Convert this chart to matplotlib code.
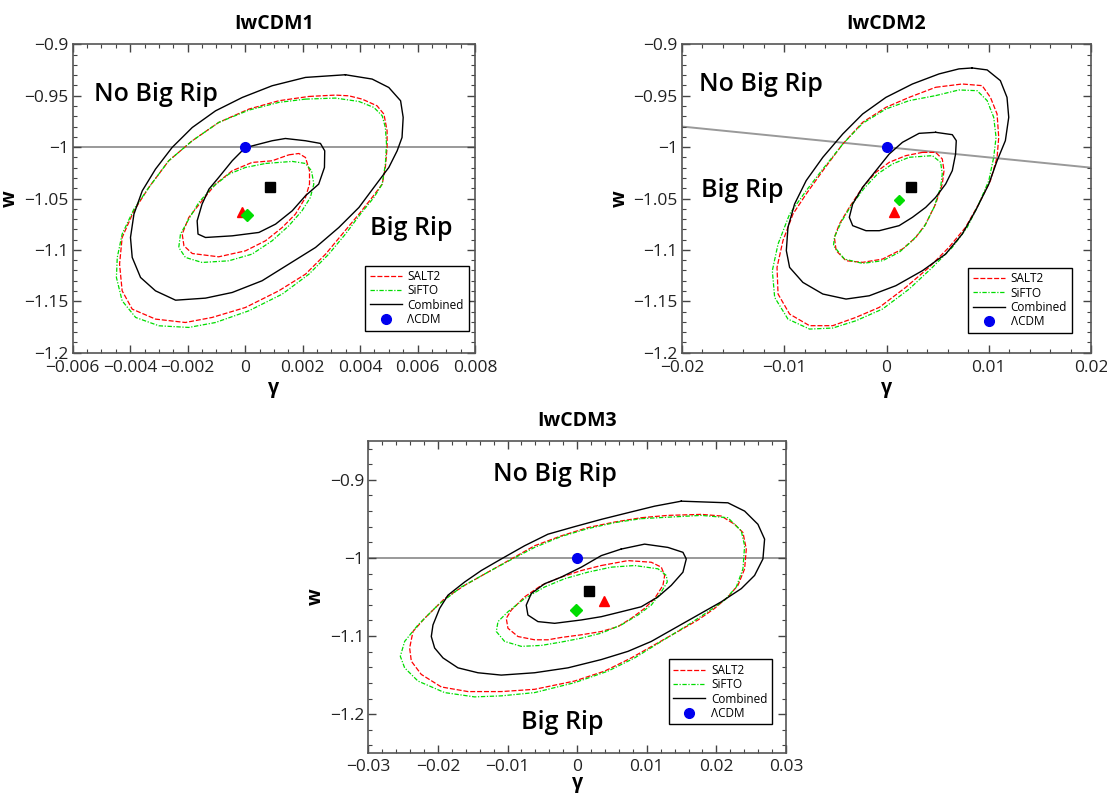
import matplotlib
matplotlib.use("Agg")
import matplotlib.pyplot as plt
from matplotlib.ticker import MultipleLocator, FuncFormatter
from matplotlib.lines import Line2D

plt.rcParams['font.family'] = ['Open Sans', 'DejaVu Sans']

# ---- IwCDM1 contours (gamma, w) ----
P1_COMB_OUT = [(0.00349, -0.9296), (0.00442, -0.9338), (0.00500, -0.9420), (0.00541, -0.9549), (0.00550, -0.9711),
               (0.00546, -0.9906), (0.00529, -1.0036), (0.00500, -1.0198), (0.00448, -1.0392), (0.00396, -1.0587),
               (0.00326, -1.0782), (0.00245, -1.0976), (0.00152, -1.1138), (0.00059, -1.1300), (-0.00045, -1.1414),
               (-0.00138, -1.1469), (-0.00242, -1.1489), (-0.00312, -1.1398), (-0.00364, -1.1268), (-0.00393, -1.1073),
               (-0.00399, -1.0879), (-0.00387, -1.0652), (-0.00358, -1.0425), (-0.00312, -1.0214), (-0.00254, -1.0003),
               (-0.00184, -0.9809), (-0.00103, -0.9647), (-0.00010, -0.9517), (0.00094, -0.9403), (0.00210, -0.9322)]
P1_COMB_IN = [(0.0, -1.0006), (0.00048, -0.9971), (0.00094, -0.9938), (0.00140, -0.9916), (0.00210, -0.9938),
              (0.00262, -0.9964), (0.00277, -1.0036), (0.00276, -1.0198), (0.00256, -1.0360), (0.00210, -1.0473),
              (0.00164, -1.0619), (0.00106, -1.0749), (0.00048, -1.0830), (-0.00045, -1.0863), (-0.00138, -1.0879),
              (-0.00164, -1.0846), (-0.00167, -1.0717), (-0.00150, -1.0555), (-0.00126, -1.0409), (-0.00092, -1.0295),
              (-0.00045, -1.0133)]
P1_SALT2_OUT = [(0.00222, -0.9507), (0.00314, -0.9494), (0.00361, -0.9501), (0.00407, -0.9533), (0.00459, -0.9598),
                (0.00483, -0.9679), (0.00494, -0.9841), (0.00494, -1.0003), (0.00488, -1.0198), (0.00477, -1.0360),
                (0.00442, -1.0490), (0.00396, -1.0652), (0.00338, -1.0846), (0.00280, -1.1041), (0.00210, -1.1236),
                (0.00117, -1.1398), (0.00001, -1.1560), (-0.00115, -1.1657), (-0.00208, -1.1706), (-0.00312, -1.1673),
                (-0.00393, -1.1576), (-0.00428, -1.1398), (-0.00437, -1.1138), (-0.00428, -1.0879), (-0.00387, -1.0619),
                (-0.00335, -1.0392), (-0.00266, -1.0133), (-0.00184, -0.9938), (-0.00092, -0.9760), (0.00013, -0.9630),
                (0.00117, -0.9549)]
P1_SIFTO_OUT = [(0.00210, -0.9533), (0.00314, -0.9523), (0.00396, -0.9556), (0.00448, -0.9614), (0.00477, -0.9695),
                (0.00488, -0.9809), (0.00492, -0.9971), (0.00488, -1.0166), (0.00477, -1.0360), (0.00448, -1.0490),
                (0.00401, -1.0652), (0.00349, -1.0846), (0.00291, -1.1041), (0.00222, -1.1236), (0.00129, -1.1430),
                (0.00013, -1.1592), (-0.00103, -1.1706), (-0.00196, -1.1754), (-0.00300, -1.1738), (-0.00381, -1.1657),
                (-0.00428, -1.1495), (-0.00448, -1.1268), (-0.00445, -1.1073), (-0.00428, -1.0846), (-0.00387, -1.0603),
                (-0.00335, -1.0392), (-0.00266, -1.0133), (-0.00184, -0.9938), (-0.00092, -0.9760), (0.00013, -0.9640),
                (0.00117, -0.9565)]
P1_SALT2_IN = [(0.00152, -1.0075), (0.00187, -1.0062), (0.00210, -1.0101), (0.00224, -1.0230), (0.00224, -1.0360),
               (0.00210, -1.0490), (0.00175, -1.0652), (0.00129, -1.0782), (0.00071, -1.0911), (0.00001, -1.1009),
               (-0.00092, -1.1067), (-0.00184, -1.1035), (-0.00213, -1.0960), (-0.00219, -1.0846), (-0.00196, -1.0684),
               (-0.00150, -1.0522), (-0.00103, -1.0360), (-0.00045, -1.0230), (0.00024, -1.0149), (0.00094, -1.0133)]
P1_SIFTO_IN = [(0.00071, -1.0159), (0.00164, -1.0139), (0.00210, -1.0159), (0.00231, -1.0230), (0.00239, -1.0360),
               (0.00227, -1.0490), (0.00198, -1.0619), (0.00152, -1.0765), (0.00094, -1.0911), (0.00024, -1.1041),
               (-0.00057, -1.1106), (-0.00150, -1.1122), (-0.00208, -1.1073), (-0.00231, -1.0976), (-0.00225, -1.0846),
               (-0.00196, -1.0700), (-0.00161, -1.0538), (-0.00115, -1.0392), (-0.00057, -1.0263), (0.00001, -1.0198)]
P1_BEST = {"comb": (0.00086, -1.0392), "salt2": (-0.0001, -1.0631), "sifto": (0.00008, -1.0664)}

# ---- IwCDM2 contours ----
P2_COMB_OUT = [(0.00837, -0.9230), (0.00984, -0.9249), (0.01113, -0.9353), (0.01178, -0.9516), (0.01195, -0.9710),
               (0.01162, -0.9937), (0.01081, -1.0133), (0.01000, -1.0360), (0.00870, -1.0619), (0.00740, -1.0846),
               (0.00578, -1.1040), (0.00351, -1.1202), (0.00091, -1.1348), (-0.00169, -1.1446), (-0.00396, -1.1478),
               (-0.00623, -1.1429), (-0.00818, -1.1316), (-0.00948, -1.1170), (-0.00980, -1.1007), (-0.00964, -1.0780),
               (-0.00899, -1.0553), (-0.00786, -1.0326), (-0.00623, -1.0099), (-0.00428, -0.9872), (-0.00234, -0.9678),
               (-0.00006, -0.9516), (0.00253, -0.9386), (0.00513, -0.9288), (0.00708, -0.9239)]
P2_COMB_IN = [(0.00480, -0.9856), (0.00643, -0.9879), (0.00682, -0.9937), (0.00675, -1.0067), (0.00643, -1.0229),
              (0.00578, -1.0359), (0.00480, -1.0489), (0.00383, -1.0586), (0.00253, -1.0683), (0.00123, -1.0764),
              (-0.00071, -1.0813), (-0.00201, -1.0813), (-0.00331, -1.0764), (-0.00364, -1.0683), (-0.00331, -1.0553),
              (-0.00234, -1.0391), (-0.00104, -1.0229), (0.00026, -1.0067), (0.00156, -0.9953), (0.00318, -0.9866)]
P2_SALT2_OUT = [(0.00480, -0.9418), (0.00740, -0.9386), (0.00935, -0.9402), (0.01016, -0.9516), (0.01081, -0.9678),
                (0.01097, -0.9905), (0.01081, -1.0099), (0.01016, -1.0326), (0.00902, -1.0553), (0.00773, -1.0780),
                (0.00610, -1.0975), (0.00415, -1.1170), (0.00188, -1.1364), (-0.00071, -1.1559), (-0.00299, -1.1656),
                (-0.00526, -1.1737), (-0.00753, -1.1737), (-0.00948, -1.1624), (-0.01061, -1.1429), (-0.01071, -1.1170),
                (-0.01013, -1.0910), (-0.00915, -1.0651), (-0.00786, -1.0456), (-0.00623, -1.0229), (-0.00428, -0.9970),
                (-0.00234, -0.9759), (-0.00006, -0.9613), (0.00221, -0.9516)]
P2_SIFTO_OUT = [(0.00480, -0.9499), (0.00708, -0.9444), (0.00886, -0.9451), (0.00984, -0.9548), (0.01048, -0.9710),
                (0.01071, -0.9905), (0.01048, -1.0099), (0.01000, -1.0326), (0.00902, -1.0553), (0.00789, -1.0780),
                (0.00643, -1.0975), (0.00448, -1.1170), (0.00221, -1.1381), (-0.00039, -1.1575), (-0.00299, -1.1689),
                (-0.00526, -1.1760), (-0.00753, -1.1770), (-0.00964, -1.1673), (-0.01094, -1.1462), (-0.01117, -1.1202),
                (-0.01061, -1.0943), (-0.00948, -1.0651), (-0.00786, -1.0424), (-0.00623, -1.0213), (-0.00428, -0.9970),
                (-0.00234, -0.9769), (-0.00006, -0.9629), (0.00221, -0.9548)]
P2_SALT2_IN = [(0.00351, -1.0051), (0.00480, -1.0051), (0.00545, -1.0115), (0.00562, -1.0229), (0.00545, -1.0359),
               (0.00480, -1.0553), (0.00383, -1.0748), (0.00286, -1.0878), (0.00156, -1.0991), (-0.00039, -1.1089),
               (-0.00234, -1.1121), (-0.00396, -1.1105), (-0.00493, -1.1007), (-0.00510, -1.0878), (-0.00461, -1.0748),
               (-0.00364, -1.0586), (-0.00234, -1.0391), (-0.00104, -1.0245), (0.00026, -1.0148), (0.00188, -1.0083)]
P2_SIFTO_IN = [(0.00221, -1.0099), (0.00448, -1.0083), (0.00529, -1.0148), (0.00545, -1.0261), (0.00529, -1.0391),
               (0.00464, -1.0586), (0.00367, -1.0780), (0.00253, -1.0910), (0.00123, -1.1024), (-0.00039, -1.1105),
               (-0.00234, -1.1131), (-0.00412, -1.1089), (-0.00519, -1.0959), (-0.00510, -1.0878), (-0.00445, -1.0732),
               (-0.00347, -1.0570), (-0.00217, -1.0398), (-0.00088, -1.0261), (0.00058, -1.0164)]
P2_BEST = {"comb": (0.00237, -1.0384), "salt2": (0.00075, -1.0633), "sifto": (0.00117, -1.0510)}

# ---- IwCDM3 contours ----
P3_COMB_OUT = [(0.01496, -0.9273), (0.02166, -0.9294), (0.02406, -0.9400), (0.02597, -0.9569), (0.02693, -0.9759),
               (0.02669, -1.0013), (0.02549, -1.0224), (0.02358, -1.0393), (0.02070, -1.0562), (0.01735, -1.0731),
               (0.01400, -1.0900), (0.01065, -1.1069), (0.00730, -1.1196), (0.00347, -1.1301), (-0.00132, -1.1407),
               (-0.00611, -1.1470), (-0.01090, -1.1500), (-0.01425, -1.1470), (-0.01712, -1.1407), (-0.01927, -1.1280),
               (-0.02047, -1.1153), (-0.02095, -1.1006), (-0.02071, -1.0858), (-0.01975, -1.0646), (-0.01856, -1.0477),
               (-0.01616, -1.0308), (-0.01377, -1.0161), (-0.01090, -1.0013), (-0.00755, -0.9844), (-0.00420, -0.9696),
               (-0.00036, -0.9599), (0.00347, -0.9506), (0.00730, -0.9421), (0.01113, -0.9337)]
P3_COMB_IN = [(0.00634, -0.9886), (0.00969, -0.9823), (0.01304, -0.9865), (0.01520, -0.9928), (0.01568, -1.0013),
              (0.01520, -1.0182), (0.01352, -1.0351), (0.01161, -1.0499), (0.00921, -1.0625), (0.00634, -1.0689),
              (0.00347, -1.0752), (0.00060, -1.0794), (-0.00323, -1.0837), (-0.00563, -1.0815), (-0.00707, -1.0731),
              (-0.00731, -1.0604), (-0.00659, -1.0456), (-0.00467, -1.0330), (-0.00228, -1.0245), (0.00060, -1.0118),
              (0.00347, -0.9970)]
P3_SALT2_OUT = [(0.00920, -0.9485), (0.01303, -0.9455), (0.01783, -0.9442), (0.02070, -0.9463), (0.02262, -0.9569),
                (0.02382, -0.9675), (0.02430, -0.9886), (0.02406, -1.0139), (0.02310, -1.0351), (0.02166, -1.0499),
                (0.01975, -1.0646), (0.01736, -1.0794), (0.01448, -1.0942), (0.01113, -1.1111), (0.00778, -1.1280),
                (0.00395, -1.1449), (-0.00036, -1.1576), (-0.00611, -1.1682), (-0.01090, -1.1711), (-0.01568, -1.1711),
                (-0.01951, -1.1652), (-0.02239, -1.1491), (-0.02382, -1.1322), (-0.02406, -1.1153), (-0.02358, -1.0942),
                (-0.02191, -1.0773), (-0.01903, -1.0520), (-0.01616, -1.0351), (-0.01281, -1.0182), (-0.00946, -1.0013),
                (-0.00611, -0.9844), (-0.00228, -0.9717), (0.00155, -0.9611), (0.00538, -0.9540)]
P3_SIFTO_OUT = [(0.00920, -0.9497), (0.01783, -0.9455), (0.02166, -0.9485), (0.02358, -0.9654), (0.02406, -0.9844),
                (0.02382, -1.0139), (0.02286, -1.0372), (0.02118, -1.0541), (0.01879, -1.0689), (0.01592, -1.0858),
                (0.01209, -1.1069), (0.00826, -1.1280), (0.00443, -1.1449), (-0.00036, -1.1597), (-0.00611, -1.1724),
                (-0.01090, -1.1766), (-0.01473, -1.1779), (-0.01903, -1.1724), (-0.02287, -1.1576), (-0.02478, -1.1407),
                (-0.02540, -1.1259), (-0.02478, -1.1069), (-0.02287, -1.0858), (-0.02000, -1.0604), (-0.01664, -1.0372),
                (-0.01281, -1.0182), (-0.00946, -1.0021), (-0.00611, -0.9865), (-0.00228, -0.9725), (0.00155, -0.9624),
                (0.00538, -0.9548)]
P3_SALT2_IN = [(0.00347, -1.0097), (0.00730, -1.0034), (0.01065, -1.0055), (0.01209, -1.0118), (0.01257, -1.0224),
               (0.01233, -1.0351), (0.01113, -1.0520), (0.00969, -1.0646), (0.00778, -1.0773), (0.00586, -1.0879),
               (0.00347, -1.0942), (0.00060, -1.0984), (-0.00228, -1.1018), (-0.00419, -1.1048), (-0.00611, -1.1048),
               (-0.00850, -1.1006), (-0.00994, -1.0900), (-0.01018, -1.0773), (-0.00946, -1.0668), (-0.00755, -1.0499),
               (-0.00515, -1.0351), (-0.00228, -1.0245), (0.00060, -1.0161)]
P3_SIFTO_IN = [(0.00490, -1.0118), (0.00826, -1.0097), (0.01161, -1.0139), (0.01281, -1.0224), (0.01295, -1.0308),
               (0.01209, -1.0435), (0.01065, -1.0604), (0.00873, -1.0731), (0.00634, -1.0858), (0.00347, -1.0963),
               (0.00060, -1.1027), (-0.00228, -1.1077), (-0.00515, -1.1120), (-0.00802, -1.1132), (-0.01042, -1.1069),
               (-0.01161, -1.0942), (-0.01137, -1.0815), (-0.00994, -1.0689), (-0.00755, -1.0520), (-0.00467, -1.0372),
               (-0.00180, -1.0266), (0.00155, -1.0182)]
P3_BEST = {"comb": (0.00170, -1.0427), "salt2": (0.00380, -1.0549), "sifto": (-0.00022, -1.0668)}

LCDM = (0.0, -1.0)

# big rip boundary lines
BOUND1_G, BOUND1_W = [-0.006, 0.008], [-1.0, -1.0]
BOUND2_G, BOUND2_W = [-0.02, 0.02], [-0.98, -1.02]
BOUND3_G, BOUND3_W = [-0.03, 0.03], [-1.0, -1.0]

RED = '#ff0000'
GREEN = '#00dd00'


def closed(pts):
    g = [p[0] for p in pts] + [pts[0][0]]
    w = [p[1] for p in pts] + [pts[0][1]]
    return g, w


def fmt(v, pos):
    s = '%g' % round(v, 6)
    return s.replace('-', '\u2212')


def draw_panel(ax, title, contours, best, bound, xlim, ylim, xmaj, xmin, ymaj, ymin,
               texts, leg_anchor, dsize, xpad=5.5, xlabpad=1.5):
    ax.plot(bound[0], bound[1], color='#999999', lw=1.4, zorder=1)
    for pts, kind in contours:
        g, w = closed(pts)
        if kind == 'salt2':
            ax.plot(g, w, color=RED, lw=0.9, dashes=(4, 1.5), zorder=2)
        elif kind == 'sifto':
            ax.plot(g, w, color=GREEN, lw=0.9, dashes=(3.5, 1.3, 1, 1.3), zorder=2)
        else:
            ax.plot(g, w, color='black', lw=1.0, zorder=3)
    ax.plot(*LCDM, 'o', color='#0000ee', ms=7, zorder=5)
    ax.plot(*best['comb'], 's', color='black', ms=7, zorder=5)
    ax.plot(*best['salt2'], '^', color=RED, ms=7, zorder=5)
    ax.plot(*best['sifto'], 'D', color=GREEN, ms=dsize, zorder=6)
    for (x, y, s) in texts:
        ax.text(x, y, s, fontsize=18, fontweight='semibold', ha='center', va='center', zorder=7)
    ax.set_xlim(*xlim)
    ax.set_ylim(*ylim)
    ax.xaxis.set_major_locator(MultipleLocator(xmaj))
    ax.xaxis.set_minor_locator(MultipleLocator(xmin))
    ax.yaxis.set_major_locator(MultipleLocator(ymaj))
    ax.yaxis.set_minor_locator(MultipleLocator(ymin))
    ax.xaxis.set_major_formatter(FuncFormatter(fmt))
    ax.yaxis.set_major_formatter(FuncFormatter(fmt))
    ax.tick_params(which='both', direction='in', top=True, right=True, color='#444444',
                   labelsize=12.5, labelcolor='#222222')
    ax.tick_params(axis='x', pad=xpad)
    ax.tick_params(axis='y', pad=3)
    ax.tick_params(which='major', length=6, width=1)
    ax.tick_params(which='minor', length=3, width=0.8)
    for sp in ax.spines.values():
        sp.set_color('#555555')
        sp.set_linewidth(1.2)
    ax.set_title(title, fontsize=14, fontweight='bold', pad=11)
    ax.set_xlabel('\u03b3', fontsize=14, fontweight='bold', labelpad=xlabpad)
    ax.set_ylabel('w', fontsize=14, fontweight='bold', labelpad=3)
    handles = [Line2D([], [], color=RED, lw=0.9, dashes=(4, 1.5)),
               Line2D([], [], color=GREEN, lw=0.9, dashes=(3.5, 1.3, 1, 1.3)),
               Line2D([], [], color='black', lw=1.0),
               Line2D([], [], color='#0000ee', marker='o', ls='none', ms=7)]
    leg = ax.legend(handles, ['SALT2', 'SiFTO', 'Combined', '\u039bCDM'], loc='lower right',
                    bbox_to_anchor=leg_anchor, borderaxespad=0, fontsize=8.5, fancybox=False,
                    framealpha=1, edgecolor='black', handlelength=2.7, labelspacing=0.1,
                    borderpad=0.4, handletextpad=0.5)
    leg.get_frame().set_linewidth(1.0)


fig = plt.figure(figsize=(11.07, 8.0), dpi=100)
ax1 = fig.add_axes([0.0657, 0.5591, 0.3634, 0.3855])
ax2 = fig.add_axes([0.6161, 0.5591, 0.3695, 0.3855])
ax3 = fig.add_axes([0.3327, 0.0585, 0.3773, 0.3905])

draw_panel(ax1, 'IwCDM1',
           [(P1_COMB_OUT, 'comb'), (P1_COMB_IN, 'comb'), (P1_SALT2_OUT, 'salt2'), (P1_SALT2_IN, 'salt2'),
            (P1_SIFTO_OUT, 'sifto'), (P1_SIFTO_IN, 'sifto')],
           P1_BEST, (BOUND1_G, BOUND1_W), (-0.006, 0.008), (-1.2, -0.9), 0.002, 0.0005, 0.05, 0.01,
           [(-0.00312, -0.9491, 'No Big Rip'), (0.00578, -1.0791, 'Big Rip')], (0.984, 0.072), 6)
draw_panel(ax2, 'IwCDM2',
           [(P2_COMB_OUT, 'comb'), (P2_COMB_IN, 'comb'), (P2_SALT2_OUT, 'salt2'), (P2_SALT2_IN, 'salt2'),
            (P2_SIFTO_OUT, 'sifto'), (P2_SIFTO_IN, 'sifto')],
           P2_BEST, (BOUND2_G, BOUND2_W), (-0.02, 0.02), (-1.2, -0.9), 0.01, 0.002, 0.05, 0.01,
           [(-0.01224, -0.9386, 'No Big Rip'), (-0.01412, -1.0424, 'Big Rip')], (0.953, 0.065), 5)
draw_panel(ax3, 'IwCDM3',
           [(P3_COMB_OUT, 'comb'), (P3_COMB_IN, 'comb'), (P3_SALT2_OUT, 'salt2'), (P3_SALT2_IN, 'salt2'),
            (P3_SIFTO_OUT, 'sifto'), (P3_SIFTO_IN, 'sifto')],
           P3_BEST, (BOUND3_G, BOUND3_W), (-0.03, 0.03), (-1.25, -0.85), 0.01, 0.002, 0.1, 0.02,
           [(-0.00324, -0.8935, 'No Big Rip'), (-0.00218, -1.2104, 'Big Rip')], (0.967, 0.092), 6,
           xpad=4, xlabpad=-1)

fig.savefig('out.png', dpi=100)
